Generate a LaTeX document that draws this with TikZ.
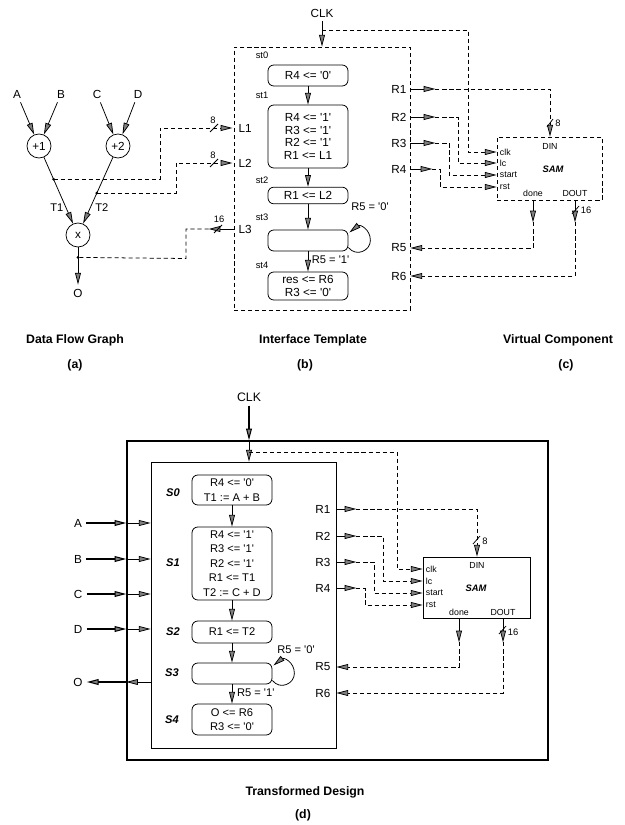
\documentclass[tikz,border=0pt]{standalone}
\usepackage{fontspec}
\setmainfont{Liberation Sans}
\usetikzlibrary{arrows.meta,positioning,calc}
\newcommand{\qt}[1]{\textquotesingle#1\textquotesingle}

\begin{document}
\begin{tikzpicture}[
  x=0.03cm,y=-0.03cm,
  font=\fontsize{10}{11}\selectfont,
  line width=0.65pt,
  >={Triangle[length=10pt,width=5pt,fill=black!50]},
  sig/.style={->},
  wire/.style={dash pattern=on 3.5pt off 2.5pt},
  dwire/.style={wire,->},
  op/.style={circle,draw,minimum size=0.72cm,inner sep=0pt},
  stbox/.style={draw,rounded corners=5pt,minimum width=2.4cm,align=center,inner sep=1pt},
  dstbox/.style={stbox,font=\fontsize{9.5}{12.3}\selectfont},
  stlbl/.style={font=\fontsize{8}{9}\selectfont},
  slbl/.style={font=\fontsize{9.5}{11}\selectfont\bfseries\itshape},
  port/.style={font=\fontsize{7.5}{8}\selectfont,inner sep=0.5pt},
  buslbl/.style={font=\fontsize{8}{9}\selectfont,inner sep=1pt},
  tr/.style={font=\fontsize{9.5}{11}\selectfont,inner sep=1pt},
  reg/.style={inner sep=1pt},
  caption/.style={font=\fontsize{10.5}{12}\selectfont\bfseries},
]
\useasboundingbox (0,0) rectangle (624,825);

% (a) data flow graph
\node (A) at (17,94) {A};
\node (B) at (61,94) {B};
\node (C) at (97,94) {C};
\node (D) at (138,94) {D};
\node[op] (add1) at (39,146) {+1};
\node[op] (add2) at (118,146) {+2};
\node[op] (mul) at (78,235) {x};
\node (Oa) at (78,293) {O};
\draw[sig] (A) -- (add1);
\draw[sig] (B) -- (add1);
\draw[sig] (C) -- (add2);
\draw[sig] (D) -- (add2);
\draw[sig] (add1) -- coordinate[pos=.33] (t1tap) node[pos=.76,left=1pt,tr]{T1} (mul);
\draw[sig] (add2) -- coordinate[pos=.54] (t2tap) node[pos=.76,right=3pt,tr]{T2} (mul);
\draw[sig] (mul) -- coordinate[pos=.27] (otap) (Oa);
\fill (t1tap) circle (1.3pt);
\fill (t2tap) circle (1.3pt);
\fill (otap) circle (1.3pt);

% (b) interface template
\node[draw,wire,minimum width=5.28cm,minimum height=7.89cm] (tmpl) at (322,178.5) {};
\node[reg,anchor=west] (L1) at (237,128) {L1};
\node[reg,anchor=west] (L2) at (237,163) {L2};
\node[reg,anchor=west] (L3) at (237,229) {L3};
\draw[dwire,shorten >=1pt] (t1tap) -| (160,128) -- (L1 -| tmpl.west);
\draw[dwire,shorten >=1pt] (t2tap) -| (176,163) -- (L2 -| tmpl.west);
\draw[sig] (L3 -| tmpl.west) -- ++(-25,0) coordinate (l3b);
\draw[wire] (l3b) -| (186,258.5) -- (otap);
\draw (210,132) -- (218,124);
\node[buslbl] at (213,120) {8};
\draw (210,167) -- (218,159);
\node[buslbl] at (213,155) {8};
\draw (214,233) -- (222,225);
\node[buslbl] at (219,219) {16};

\node (clkb) at (322,13) {CLK};
\coordinate (clkbj) at (322,30);
\draw[sig] (clkb) -- (clkb |- tmpl.north);

\node[stlbl] (st0l) at (262,55) {st0};
\node[stlbl] (st1l) at (262,95) {st1};
\node[stlbl] (st2l) at (262,180) {st2};
\node[stlbl] (st3l) at (262,217) {st3};
\node[stlbl] (st4l) at (262,265) {st4};
\node[stbox,minimum height=0.63cm] (st0) at (308,75.5) {R4 <= \qt0};
\node[stbox,minimum height=1.89cm] (st1) at (308,136.5)
  {R4 <= \qt1\\R3 <= \qt1\\R2 <= \qt1\\R1 <= L1};
\node[stbox,minimum height=0.5cm] (st2) at (308,195.5) {R1 <= L2};
\node[stbox,minimum height=0.63cm] (st3) at (308,240.5) {};
\node[stbox,minimum height=0.84cm] (st4) at (308,286) {res <= R6\\R3 <= \qt0};
\draw[sig] (st0) -- (st1);
\draw[sig] (st1) -- (st2);
\draw[sig] (st2) -- (st3);
\draw[sig] (st3) -- node[pos=.4,right=2pt,tr]{R5 = \qt1} (st4);
\draw[sig] ($(st3.east)+(0,7)$) .. controls +(8,10) and +(0,10) .. ($(st3.east)+(22,0)$)
  .. controls +(0,-12) and +(10,-8) .. ($(st3.east)+(1,-8)$);
\node[tr] at (370,207) {R5 = \qt0};

\node[reg,anchor=east] (R1) at (408,89) {R1};
\node[reg,anchor=east] (R2) at (408,117) {R2};
\node[reg,anchor=east] (R3) at (408,143) {R3};
\node[reg,anchor=east] (R4) at (408,169) {R4};
\node[reg,anchor=east] (R5) at (408,248) {R5};
\node[reg,anchor=east] (R6) at (408,276) {R6};

% (c) virtual component
\node[draw,wire,minimum width=3.15cm,minimum height=1.89cm] (samc) at (549.5,168.5) {};
\node[port,anchor=west] (cclk) at (499,152) {clk};
\node[port,anchor=west] (clc) at (499,163) {lc};
\node[port,anchor=west] (cst) at (499,175) {start};
\node[port,anchor=west] (crst) at (499,187) {rst};
\node[port] (cdin) at (550,146) {DIN};
\node[port,font=\fontsize{8}{9}\selectfont\bfseries\itshape] at (553,169) {SAM};
\node[port] (cdone) at (533,193) {done};
\node[port] (cdout) at (575,193) {DOUT};

\draw[dwire] (clkbj) -| (468,152) -- (samc.west |- cclk);
\draw[sig] (R1 -| tmpl.east) -- ++(25,0) coordinate (r1b);
\draw[dwire] (r1b) -| (cdin |- samc.north);
\draw[sig] (R2 -| tmpl.east) -- ++(25,0) coordinate (r2b);
\draw[dwire] (r2b) -| (458,163) -- (samc.west |- clc);
\draw[sig] (R3 -| tmpl.east) -- ++(25,0) coordinate (r3b);
\draw[dwire] (r3b) -| (449,175) -- (samc.west |- cst);
\draw[sig] (R4 -| tmpl.east) -- ++(22,0) coordinate (r4b);
\draw[dwire] (r4b) -| (440,187) -- (samc.west |- crst);
\draw[sig] (cdone |- samc.south) -- ++(0,22) coordinate (cdnb);
\draw[dwire] (cdnb) |- (R5 -| tmpl.east);
\draw[sig] (cdout |- samc.south) -- ++(0,22) coordinate (cdob);
\draw[dwire] (cdob) |- (R6 -| tmpl.east);
\draw (547,127) -- (553,119);
\node[buslbl] at (558,123) {8};
\draw (572,214) -- (579,206);
\node[buslbl] at (586,210) {16};

\node[caption] at (75,340) {Data Flow Graph};
\node[caption] at (75,365) {(a)};
\node[caption] at (313,340) {Interface Template};
\node[caption] at (305,365) {(b)};
\node[caption] at (558,340) {Virtual Component};
\node[caption] at (566,365) {(c)};

% (d) transformed design
\node[draw,line width=1.3pt,minimum width=12.63cm,minimum height=9.57cm] (outer) at (337.5,600.5) {};
\node[draw,minimum width=5.55cm,minimum height=8.58cm] (inner) at (243.5,605) {};
\node[font=\fontsize{10.5}{12}\selectfont] (clkd) at (249,397) {CLK};
\coordinate (clkdj) at (249,452);
\draw[sig,line width=0.9pt] (clkd) -- (clkd |- outer.north);
\draw[sig] (clkd |- outer.north) -- (clkd |- inner.north);

\node[slbl] (S0l) at (173,493) {S0};
\node[slbl] (S1l) at (173,563) {S1};
\node[slbl] (S2l) at (173,632) {S2};
\node[slbl] (S3l) at (172,673) {S3};
\node[slbl] (S4l) at (172,720) {S4};
\node[dstbox,minimum height=0.9cm] (S0) at (232,490) {R4 <= \qt0\\T1 := A + B};
\node[dstbox,minimum height=2.19cm] (S1) at (232,563.5)
  {R4 <= \qt1\\R3 <= \qt1\\R2 <= \qt1\\R1 <= T1\\T2 := C + D};
\node[dstbox,minimum height=0.66cm] (S2) at (232,632) {R1 <= T2};
\node[dstbox,minimum height=0.63cm] (S3) at (232,673.5) {};
\node[dstbox,minimum height=0.93cm] (S4) at (232,719.5) {O <= R6\\R3 <= \qt0};
\draw[sig] (S0) -- (S1);
\draw[sig] (S1) -- (S2);
\draw[sig] (S2) -- (S3);
\draw[sig] (S3) -- node[pos=.45,right=3pt,tr]{R5 = \qt1} (S4);
\draw[sig] ($(S3.east)+(0,7)$) .. controls +(8,10) and +(0,10) .. ($(S3.east)+(22,0)$)
  .. controls +(0,-12) and +(10,-8) .. ($(S3.east)+(1,-8)$);
\node[tr] at (296,650) {R5 = \qt0};

\node[reg,anchor=east] (R1d) at (332,509) {R1};
\node[reg,anchor=east] (R2d) at (332,536) {R2};
\node[reg,anchor=east] (R3d) at (332,562) {R3};
\node[reg,anchor=east] (R4d) at (332,588) {R4};
\node[reg,anchor=east] (R5d) at (332,667) {R5};
\node[reg,anchor=east] (R6d) at (332,693) {R6};

\node[draw,minimum width=3.21cm,minimum height=1.83cm] (samd) at (476.5,587.5) {};
\node[port,anchor=west] (dclk) at (425,569) {clk};
\node[port,anchor=west] (dlc) at (425,581) {lc};
\node[port,anchor=west] (dst) at (425,593) {start};
\node[port,anchor=west] (drst) at (425,605) {rst};
\node[port] (ddin) at (477,565) {DIN};
\node[port,font=\fontsize{8}{9}\selectfont\bfseries\itshape] at (476,588) {SAM};
\node[port] (ddone) at (459,612) {done};
\node[port] (ddout) at (503,612) {DOUT};

\draw[dwire] (clkdj) -| (397,569) -- (samd.west |- dclk);
\draw[sig] (R1d -| inner.east) -- ++(20,0) coordinate (dr1b);
\draw[dwire] (dr1b) -| (ddin |- samd.north);
\draw[sig] (R2d -| inner.east) -- ++(20,0) coordinate (dr2b);
\draw[dwire] (dr2b) -| (383,581) -- (samd.west |- dlc);
\draw[sig] (R3d -| inner.east) -- ++(20,0) coordinate (dr3b);
\draw[dwire] (dr3b) -| (374,593) -- (samd.west |- dst);
\draw[sig] (R4d -| inner.east) -- ++(20,0) coordinate (dr4b);
\draw[dwire] (dr4b) -| (365,605) -- (samd.west |- drst);
\draw[sig] (ddone |- samd.south) -- ++(0,24) coordinate (ddnb);
\draw[dwire] (ddnb) |- (R5d -| inner.east);
\draw[sig] (ddout |- samd.south) -- ++(0,24) coordinate (ddob);
\draw[dwire] (ddob) |- (R6d -| inner.east);
\draw (473,544) -- (480,536);
\node[buslbl] at (485,541) {8};
\draw (499,634) -- (506,626);
\node[buslbl] at (513,632) {16};

\node (Ai) at (78,523) {A};
\node (Bi) at (78,559) {B};
\node (Ci) at (78,594) {C};
\node (Di) at (78,629) {D};
\node (Oi) at (78,682) {O};
\foreach \p in {Ai,Bi,Ci,Di}{
  \draw[sig,line width=0.9pt] (\p) -- (\p -| outer.west);
  \draw[sig] (\p -| outer.west) -- (\p -| inner.west);
}
\draw[sig] (Oi -| inner.west) -- (Oi -| outer.west);
\draw[sig,line width=0.9pt] (Oi -| outer.west) -- (Oi);

\node[caption] at (305,792) {Transformed Design};
\node[caption] at (303,815) {(d)};
\end{tikzpicture}
\end{document}
